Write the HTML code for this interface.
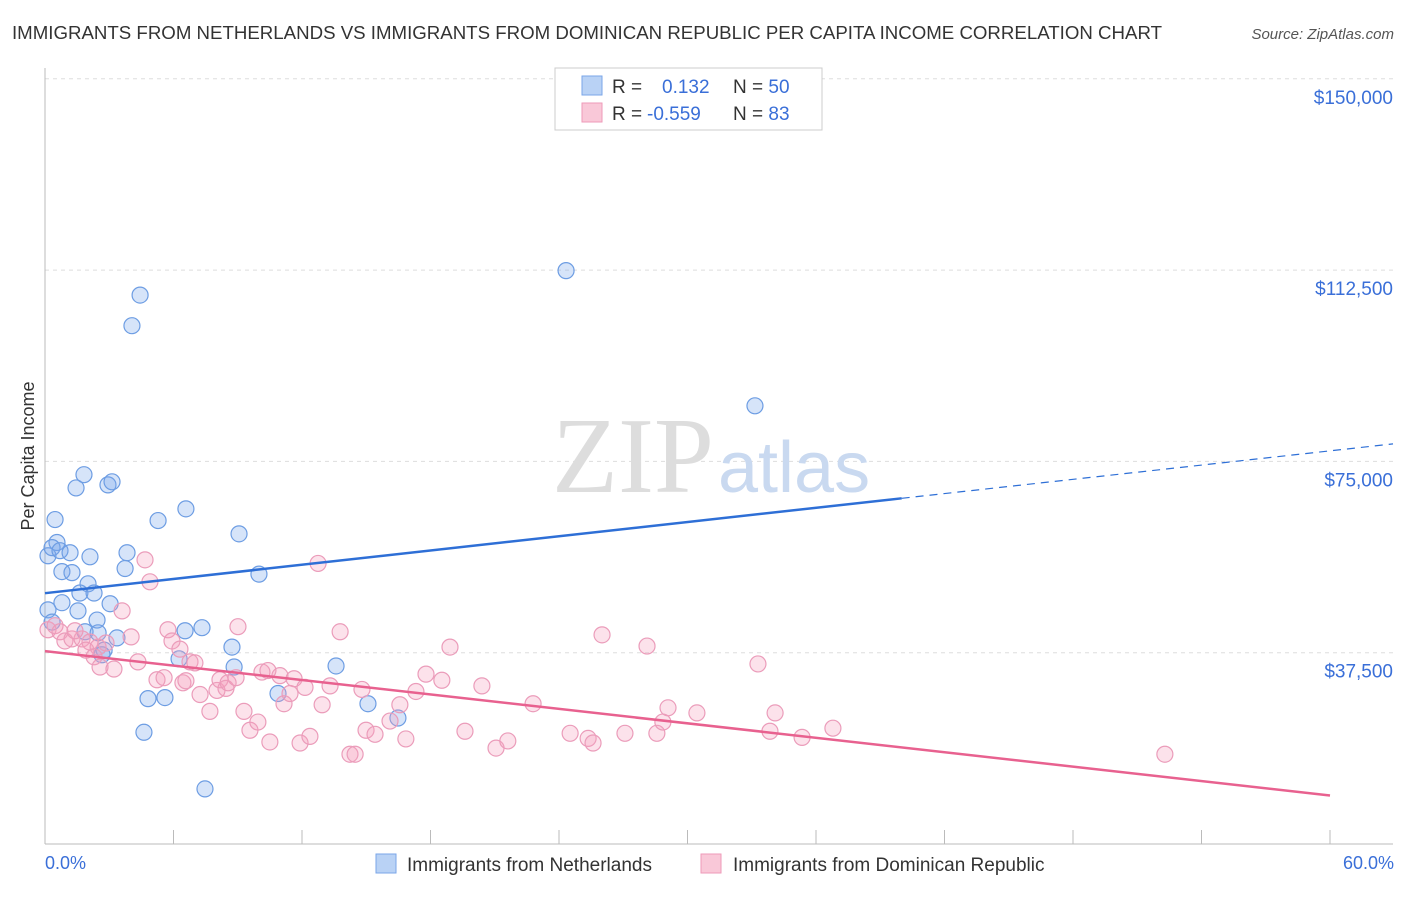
<!DOCTYPE html>
<html><head><meta charset="utf-8"><style>
body{margin:0;background:#fff;font-family:"Liberation Sans",sans-serif;}
</style></head><body>
<svg id="chart" width="1406" height="892" xmlns="http://www.w3.org/2000/svg">
<text x="12" y="39" font-size="18" fill="#333" textLength="1150" lengthAdjust="spacingAndGlyphs">IMMIGRANTS FROM NETHERLANDS VS IMMIGRANTS FROM DOMINICAN REPUBLIC PER CAPITA INCOME CORRELATION CHART</text>
<text x="1394" y="39" font-size="15" fill="#555" font-style="italic" text-anchor="end">Source: ZipAtlas.com</text>
<g id="grid"></g>
<text x="714" y="492" font-size="108" fill="#ddd" text-anchor="end" font-family="Liberation Serif,serif">ZIP</text>
<text x="718" y="492" font-size="72" fill="#c9d9f0">atlas</text>
<g id="points"></g>
<g id="lines"></g>
<text transform="translate(34,456) rotate(-90)" font-size="18" fill="#333" text-anchor="middle">Per Capita Income</text>
<text x="45" y="869" font-size="18" fill="#3a6fd8">0.0%</text>
<text x="1394" y="869" font-size="18" fill="#3a6fd8" text-anchor="end">60.0%</text>
<g>
<rect x="555" y="68" width="267" height="62" fill="#fff" stroke="#ccc"/>
<rect x="582" y="76" width="20" height="19" fill="#b9d2f5" stroke="#7aa6e8"/>
<rect x="582" y="103" width="20" height="19" fill="#f9c8d8" stroke="#ee9ab8"/>
<text x="612" y="93" font-size="19" fill="#333">R = <tspan fill="#3a6fd8" x="662">0.132</tspan><tspan x="733" fill="#333">N = </tspan><tspan fill="#3a6fd8">50</tspan></text>
<text x="612" y="120" font-size="19" fill="#333">R = <tspan fill="#3a6fd8" x="647">-0.559</tspan><tspan x="733" fill="#333">N = </tspan><tspan fill="#3a6fd8"> 83</tspan></text>
</g>
<g>
<rect x="376" y="854" width="20" height="19" fill="#b9d2f5" stroke="#7aa6e8"/>
<text x="407" y="871" font-size="19" fill="#333">Immigrants from Netherlands</text>
<rect x="701" y="854" width="20" height="19" fill="#f9c8d8" stroke="#ee9ab8"/>
<text x="733" y="871" font-size="19" fill="#333">Immigrants from Dominican Republic</text>
</g>
</svg>
<script>
const yTicks=[37500,75000,112500,150000];
const yTickLabels=["$37,500","$75,000","$112,500","$150,000"];
const blueX=[0.14,0.47,0.56,0.33,0.70,1.17,0.79,1.26,2.10,1.45,1.82,2.94,3.13,3.83,3.74,5.28,6.58,9.06,9.99,2.01,1.63,2.29,0.79,1.54,3.04,2.43,0.14,0.33,1.87,2.48,3.36,2.76,2.66,6.54,7.33,8.73,6.26,8.83,13.59,4.81,5.60,10.88,15.08,16.48,4.62,7.47,4.44,4.06,24.33,33.15];
const blueY=[56500,63600,59100,58100,57500,57100,53400,53200,56300,69800,72400,70400,71000,57100,54000,63400,65700,60800,52900,51000,49200,49200,47300,45700,47100,43900,45900,43500,41600,41400,40400,38000,37100,41800,42400,38600,36300,34700,34900,28500,28700,29500,27500,24700,21900,10800,107600,101600,112400,85900];
const pinkX=[0.14,0.47,0.70,0.93,1.26,1.73,2.10,1.40,1.91,2.48,2.85,2.29,2.57,3.22,3.60,4.02,4.34,4.67,4.90,5.23,5.56,5.74,5.93,6.30,6.44,6.58,6.77,7.00,7.24,7.70,8.03,8.17,8.45,8.55,9.01,8.92,9.29,9.57,9.94,10.13,10.41,10.50,10.97,11.16,11.44,11.63,11.91,12.14,12.37,12.75,12.94,13.31,13.78,14.24,14.48,14.80,14.99,15.41,16.11,16.57,16.85,17.32,17.79,18.53,18.91,19.61,20.40,21.06,21.61,22.79,24.52,25.36,25.59,26.01,27.08,28.11,28.57,28.85,29.09,30.44,33.29,33.85,34.09,35.35,36.79,52.29];
const pinkY=[42000,42800,41600,39800,40200,40200,39600,41800,38000,38600,39400,36700,34700,34300,45700,40600,35700,55700,51400,32200,32600,42000,39800,38200,31600,32000,35700,35500,29300,26000,30100,32200,30500,31600,42600,32600,26000,22300,23900,33700,34000,20000,33000,27500,29500,32400,19800,30700,21100,55000,27300,31000,41600,17600,17600,30300,22300,21500,24100,27300,20600,29900,33300,32100,38600,22100,31000,18800,20200,27500,21700,20700,19800,41000,21700,38800,21700,23900,26700,25700,35300,22100,25700,20900,22700,17600];
const ns="http://www.w3.org/2000/svg";
const X=v=>45+v/60*1285, Y=v=>844-v/37500*191.3;
const svg=document.getElementById('chart');
const grid=document.getElementById('grid');
function mk(tag,attrs,parent){const e=document.createElementNS(ns,tag);for(const k in attrs)e.setAttribute(k,attrs[k]);parent.appendChild(e);return e;}
yTicks.forEach((t,i)=>{
 const l=mk('line',{x1:45,x2:1393,y1:Y(t),y2:Y(t),stroke:'#ddd','stroke-dasharray':'4,4'},grid);
 
 
 const tx=mk('text',{x:1393,y:Y(t)+25,'font-size':19,fill:'#3a6fd8','text-anchor':'end'},grid);
 tx.textContent=yTickLabels[i];
 
 
});
const ax=mk('line',{x1:45,x2:1393,y1:844,y2:844,stroke:'#bbb'},grid);


const ay=mk('line',{x1:45,x2:45,y1:68,y2:844,stroke:'#bbb'},grid);


for(let k=0;k<=10;k++){const t=mk('line',{x1:X(k*6),x2:X(k*6),y1:830,y2:844,stroke:'#bbb'},grid);
 
 }
const pts=document.getElementById('points');
blueX.forEach((x,i)=>{const c=mk('circle',{cx:X(x),cy:Y(blueY[i]),r:8,fill:'rgba(120,165,235,0.3)',stroke:'#6d9de3','stroke-width':1.2},pts);
 
 });
pinkX.forEach((x,i)=>{const c=mk('circle',{cx:X(x),cy:Y(pinkY[i]),r:8,fill:'rgba(245,160,190,0.3)',stroke:'#eb9cba','stroke-width':1.2},pts);
 
 });
function fit(xs,ys){const n=xs.length,mx=xs.reduce((a,b)=>a+b)/n,my=ys.reduce((a,b)=>a+b)/n;let sxy=0,sxx=0;xs.forEach((x,i)=>{sxy+=(x-mx)*(ys[i]-my);sxx+=(x-mx)**2});const b=sxy/sxx;return [my-b*mx,b];}
const lines=document.getElementById('lines');
const [ba,bb]=fit(blueX,blueY);
const bl=mk('line',{x1:X(0),y1:Y(ba),x2:X(40),y2:Y(ba+bb*40),stroke:'#2e6fd6','stroke-width':2.5},lines);


const bd=mk('line',{x1:X(40),y1:Y(ba+bb*40),x2:1393,y2:Y(ba+bb*(1348/1285*60)),stroke:'#2e6fd6','stroke-width':1.2,'stroke-dasharray':'8,6'},lines);


const [pa,pb]=fit(pinkX,pinkY);
const pl=mk('line',{x1:X(0),y1:Y(pa),x2:X(60),y2:Y(pa+pb*60),stroke:'#e8618f','stroke-width':2.5},lines);


</script>
</body></html>
